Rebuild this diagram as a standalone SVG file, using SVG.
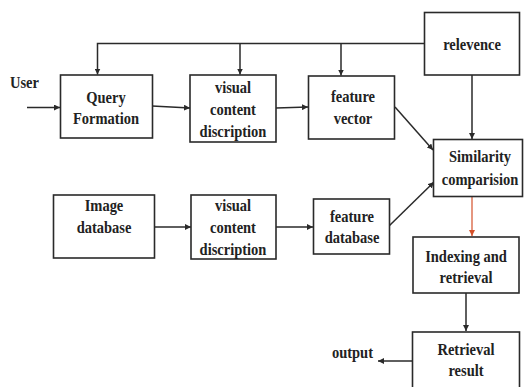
<svg xmlns="http://www.w3.org/2000/svg" width="525" height="387" viewBox="0 0 525 387">
<style>
.box{fill:#fff;stroke:#2a2a2a;stroke-width:1.6}
.ln{fill:none;stroke:#2a2a2a;stroke-width:1.5}
.red{fill:none;stroke:#d4502a;stroke-width:1.2}
.t{font-family:'Liberation Serif','DejaVu Serif',serif;font-weight:700;font-size:14.5px;fill:#222;text-anchor:middle}
</style>
<defs>
<marker id="ah" viewBox="0 0 10 10" refX="10" refY="5" markerWidth="6" markerHeight="6" markerUnits="userSpaceOnUse" orient="auto"><path d="M0,0L10,5L0,10z" fill="#2a2a2a"/></marker>
<marker id="ahr" viewBox="0 0 10 10" refX="10" refY="5" markerWidth="6" markerHeight="6" markerUnits="userSpaceOnUse" orient="auto"><path d="M0,0L10,5L0,10z" fill="#d4502a"/></marker>
</defs>
<g id="connectors">
<path class="ln" d="M424,43.5H97.5V74.5" marker-end="url(#ah)"/>
<path class="ln" d="M240,43.5V74.5" marker-end="url(#ah)"/>
<path class="ln" d="M341,43.5V75.5" marker-end="url(#ah)"/>
<path class="ln" d="M472,75V139" marker-end="url(#ah)"/>
<path class="ln" d="M27,107.5H60" marker-end="url(#ah)"/>
<path class="ln" d="M152,106L190,108" marker-end="url(#ah)"/>
<path class="ln" d="M276,108L308,107" marker-end="url(#ah)"/>
<path class="ln" d="M395,107L433,150" marker-end="url(#ah)"/>
<path class="ln" d="M155,227H191" marker-end="url(#ah)"/>
<path class="ln" d="M276,227H313" marker-end="url(#ah)"/>
<path class="ln" d="M389,226L434,182" marker-end="url(#ah)"/>
<path class="red" d="M472,197V236" marker-end="url(#ahr)"/>
<path class="ln" d="M466,293V331" marker-end="url(#ah)"/>
<path class="ln" d="M412,361H378" marker-end="url(#ah)"/>
</g>
<g id="user"><text class="t" font-family="Liberation Serif, serif" style="text-anchor:start" transform="translate(10,88) scale(1,1.15)">User</text></g>
<g id="query-formation">
<rect class="box" x="60.5" y="75" width="92" height="63"/>
<text class="t" transform="translate(106,103) scale(1,1.15)">Query</text>
<text class="t" transform="translate(106,124) scale(1,1.15)">Formation</text>
</g>
<g id="visual-content-top">
<rect class="box" x="190" y="75" width="86" height="67"/>
<text class="t" transform="translate(233,93) scale(1,1.15)">visual</text>
<text class="t" transform="translate(233,115) scale(1,1.15)">content</text>
<text class="t" transform="translate(233,137) scale(1,1.15)">discription</text>
</g>
<g id="feature-vector">
<rect class="box" x="308.5" y="76" width="86" height="63"/>
<text class="t" transform="translate(353,102) scale(1,1.15)">feature</text>
<text class="t" transform="translate(353,124) scale(1,1.15)">vector</text>
</g>
<g id="relevence">
<rect class="box" x="424.5" y="12.5" width="95" height="62.5"/>
<text class="t" transform="translate(472,50) scale(1,1.15)">relevence</text>
</g>
<g id="similarity">
<rect class="box" x="433.5" y="139.5" width="89" height="57"/>
<text class="t" transform="translate(480,162) scale(1,1.15)">Similarity</text>
<text class="t" transform="translate(480,185) scale(1,1.15)">comparision</text>
</g>
<g id="image-database">
<rect class="box" x="53.5" y="195" width="101" height="63"/>
<text class="t" transform="translate(104,211) scale(1,1.15)">Image</text>
<text class="t" transform="translate(104,233) scale(1,1.15)">database</text>
</g>
<g id="visual-content-bottom">
<rect class="box" x="191" y="195" width="85" height="64"/>
<text class="t" transform="translate(233,211) scale(1,1.15)">visual</text>
<text class="t" transform="translate(233,233) scale(1,1.15)">content</text>
<text class="t" transform="translate(233,255) scale(1,1.15)">discription</text>
</g>
<g id="feature-database">
<rect class="box" x="313.5" y="199" width="76" height="55"/>
<text class="t" transform="translate(352,222) scale(1,1.15)">feature</text>
<text class="t" transform="translate(352,243) scale(1,1.15)">database</text>
</g>
<g id="indexing">
<rect class="box" x="413" y="237" width="106" height="56"/>
<text class="t" transform="translate(466,262) scale(1,1.15)">Indexing and</text>
<text class="t" transform="translate(466,283) scale(1,1.15)">retrieval</text>
</g>
<g id="retrieval-result">
<rect class="box" x="412.5" y="332" width="107" height="60"/>
<text class="t" transform="translate(466,355) scale(1,1.15)">Retrieval</text>
<text class="t" transform="translate(466,376) scale(1,1.15)">result</text>
</g>
<g id="output"><text class="t" transform="translate(373,358) scale(1,1.15)" style="text-anchor:end">output</text></g>
</svg>
